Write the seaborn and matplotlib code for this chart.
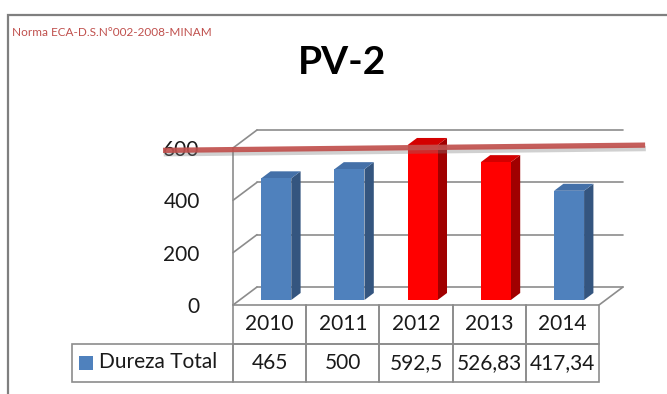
import matplotlib
matplotlib.use("Agg")
import matplotlib.pyplot as plt
import seaborn as sns
from matplotlib.patches import Polygon, Rectangle
from matplotlib.lines import Line2D
from matplotlib import transforms as mtrans
import matplotlib.patheffects as pe

# ---- data -------------------------------------------------------------
years = ["2010", "2011", "2012", "2013", "2014"]
dureza = [465, 500, 592.5, 526.83, 417.34]
dureza_labels = ["465", "500", "592,5", "526,83", "417,34"]
series_name = "Dureza Total"
yticks = [0, 200, 400, 600]
norma_value = 600
title = "PV-2"
note = "Norma ECA-D.S.N°002-2008-MINAM"

# front / side / top colours of each column
front_colors = ["#4F81BD", "#4F81BD", "#FF0000", "#FF0000", "#4F81BD"]
side_colors = ["#34557F", "#34557F", "#A00000", "#A00000", "#34557F"]
top_colors = ["#4470A8", "#4470A8", "#D40000", "#D40000", "#4470A8"]

# ---- style --------------------------------------------------------------
sns.set_style("white")
plt.rcParams["font.family"] = ["Lato", "DejaVu Sans"]

W, H, DPI = 667, 394, 100
fig = plt.figure(figsize=(W / DPI, H / DPI), dpi=DPI)

# plot area (front plane) in pixels
PX_L, PX_R, PX_B = 233, 599, 305
YMAX = 650
PX_PER_UNIT = 157 / 600
AX_H = YMAX * PX_PER_UNIT
ax = fig.add_axes([PX_L / W, (H - PX_B) / H, (PX_R - PX_L) / W, AX_H / H])

sns.barplot(x=years, y=dureza, hue=years, palette=front_colors, width=0.41,
            saturation=1, legend=False, ax=ax, edgecolor="none", zorder=3)
ax.set_xlim(-0.5, 4.5)
ax.set_ylim(0, YMAX)
for s in ax.spines.values():
    s.set_visible(False)
ax.set_xticks([])
ax.set_yticks(yticks)
ax.set_yticklabels([str(v) for v in yticks])
ax.tick_params(axis="y", length=0, pad=24, labelsize=15, labelcolor="#1a1a1a")
ax.set_xlabel("")
ax.set_ylabel("")
ax.grid(False)
ax.patch.set_visible(False)

# oblique depth: z pixels up, z * SLOPE pixels right
SLOPE = 24 / 18
Z_BAR_FRONT, Z_BAR_BACK, Z_WALL = 5, 12, 18
ident = mtrans.IdentityTransform()


def proj(x, y, z):
    px, py = ax.transData.transform((x, y))
    return (px + z * SLOPE, py + z)


def depth_shift(z):
    return ax.transData + mtrans.ScaledTranslation(z * SLOPE / DPI, z / DPI,
                                                   fig.dpi_scale_trans)


GRID = "#8C8C8C"
x0, x1 = -0.5, 4.5


def seg(p, q, **kw):
    ax.add_line(Line2D([p[0], q[0]], [p[1], q[1]], transform=ident,
                       clip_on=False, **kw))


# back wall gridlines and left wall diagonals
for v in yticks:
    a, b = proj(x0, v, Z_WALL), proj(x1, v, Z_WALL)
    seg(a, b, color=GRID, lw=1.2, zorder=1)
    seg(proj(x0, v, 0), a, color=GRID, lw=1.2, zorder=1)
# front vertical axis
seg(proj(x0, 0, 0), proj(x0, yticks[-1], 0), color=GRID, lw=1.2, zorder=1)
# floor right edge
seg(proj(x1, 0, 0), proj(x1, 0, Z_WALL), color=GRID, lw=1.2, zorder=1)

# 3-D columns: shift the front faces, add side and top faces
bars = [pt for pt in ax.patches if isinstance(pt, Rectangle)]
for i, bar in enumerate(bars):
    bx0 = bar.get_x()
    bx1 = bx0 + bar.get_width()
    h = bar.get_height()
    bar.set_transform(depth_shift(Z_BAR_FRONT))
    bar.set_facecolor(front_colors[i])
    bar.set_clip_on(False)
    side = [proj(bx1, 0, Z_BAR_FRONT), proj(bx1, h, Z_BAR_FRONT),
            proj(bx1, h, Z_BAR_BACK), proj(bx1, 0, Z_BAR_BACK)]
    top = [proj(bx0, h, Z_BAR_FRONT), proj(bx1, h, Z_BAR_FRONT),
           proj(bx1, h, Z_BAR_BACK), proj(bx0, h, Z_BAR_BACK)]
    ax.add_patch(Polygon(side, closed=True, transform=ident, clip_on=False,
                         facecolor=side_colors[i], edgecolor="none", zorder=2.9))
    ax.add_patch(Polygon(top, closed=True, transform=ident, clip_on=False,
                         facecolor=top_colors[i], edgecolor="none", zorder=2.9))

# norm line drawn across the chart
ax.plot([-1.456, 5.13], [norma_value - 9, norma_value + 11],
        color="#C0504D", lw=3.8, alpha=0.92, solid_capstyle="butt",
        clip_on=False, zorder=6,
        path_effects=[pe.SimpleLineShadow(offset=(0.5, -2.5),
                                          shadow_color="#7a7a7a", alpha=0.35),
                      pe.Normal()])

# data table under the chart
TBL_L, TBL_T, TBL_B = 72, 305, 382
leg_w = (PX_L - TBL_L) / (PX_R - PX_L)
bbox = [-leg_w, -(TBL_B - TBL_T) / AX_H, 1 + leg_w, (TBL_B - TBL_T) / AX_H]
tbl = ax.table(cellText=[[""] + years, [""] + dureza_labels],
               cellLoc="center", colWidths=[leg_w] + [0.2] * 5, bbox=bbox)
tbl.auto_set_font_size(False)
tbl.set_fontsize(15)
for (r, c), cell in tbl.get_celld().items():
    cell.set_edgecolor(GRID)
    cell.set_linewidth(1.2)
    cell.set_facecolor("none")
    cell.get_text().set_color("#1a1a1a")
tbl[0, 0].visible_edges = ""
tbl.set_zorder(5)

# legend key and series name inside the first column
key_px, key_py = 79, 356
fig.add_artist(Rectangle((key_px / W, 1 - (key_py + 14) / H), 14 / W, 14 / H,
                         transform=fig.transFigure, facecolor="#4F81BD",
                         edgecolor="none"))
fig.text(99 / W, 1 - 362 / H, series_name, ha="left", va="center",
         fontsize=15, color="#1a1a1a")

# titles
fig.text(342 / W, 1 - 62 / H, title, ha="center", va="center",
         fontsize=28, fontweight="bold", color="black")
fig.text(12 / W, 1 - 33 / H, note, ha="left", va="center",
         fontsize=8.5, color="#C0504D")

# chart-area border
fig.add_artist(Rectangle((8 / W, -0.2), 1.2, 1.2 - 15 / H,
                         transform=fig.transFigure, fill=False,
                         edgecolor="#7F7F7F", lw=1.6))

fig.savefig("out.png", dpi=DPI)
